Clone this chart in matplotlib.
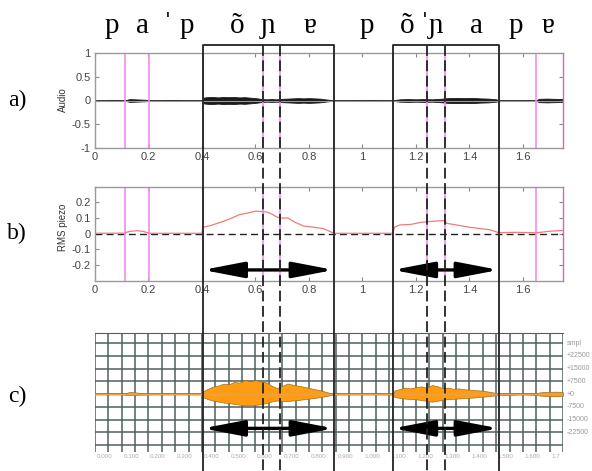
import matplotlib
matplotlib.use('Agg')
import matplotlib.pyplot as plt
import numpy as np

W, H = 592, 471

# segmentation (s)
bornes = [0.113, 0.203, 0.403, 0.628, 0.69, 0.893, 1.114, 1.241, 1.308, 1.51, 1.65, 1.75]
boites = [(0.403, 0.893), (1.114, 1.51)]
pointilles = [0.628, 0.69, 1.241, 1.308]

# transcription phonetique
phones = ['p', 'a', 'ˈ', 'p', 'õ', 'ɲ', 'ɐ', 'p', 'õ', 'ˈɲ', 'a', 'p', 'ɐ']
phones_x = [0.064, 0.179, 0.273, 0.344, 0.531, 0.647, 0.804, 1.017, 1.166, 1.262, 1.428, 1.574, 1.694]

# a) audio (enveloppe)
t_a = [0.00, 0.05, 0.06, 0.08, 0.10, 0.113, 0.13, 0.15, 0.17, 0.19, 0.203, 0.25, 0.27, 0.30, 0.33,
       0.36, 0.40, 0.405, 0.42, 0.44, 0.46, 0.48, 0.50, 0.52, 0.54, 0.56, 0.58, 0.60, 0.62, 0.64,
       0.66, 0.68, 0.70, 0.72, 0.74, 0.76, 0.78, 0.80, 0.82, 0.84, 0.86, 0.88, 0.893, 0.95, 1.00,
       1.05, 1.10, 1.114, 1.14, 1.17, 1.20, 1.23, 1.26, 1.29, 1.32, 1.35, 1.38, 1.41, 1.44, 1.47,
       1.50, 1.51, 1.55, 1.60, 1.65, 1.66, 1.69, 1.72, 1.75]
amp_a = [0.005, 0.005, 0.01, 0.01, 0.004, 0.006, 0.03, 0.025, 0.02, 0.015, 0.005, 0.004, 0.012, 0.012, 0.004,
         0.004, 0.004, 0.06, 0.07, 0.075, 0.065, 0.075, 0.07, 0.075, 0.065, 0.07, 0.06, 0.05, 0.035, 0.025,
         0.03, 0.025, 0.035, 0.04, 0.045, 0.05, 0.045, 0.05, 0.045, 0.04, 0.025, 0.012, 0.004, 0.005, 0.008,
         0.01, 0.004, 0.006, 0.025, 0.03, 0.025, 0.03, 0.025, 0.035, 0.05, 0.055, 0.05, 0.055, 0.045, 0.04,
         0.025, 0.004, 0.004, 0.004, 0.004, 0.035, 0.04, 0.035, 0.03]

# b) RMS piezo
t_b = [0, 0.113, 0.12, 0.14, 0.16, 0.18, 0.2, 0.203, 0.3, 0.40, 0.403, 0.43, 0.46, 0.50, 0.54,
       0.57, 0.60, 0.62, 0.64, 0.66, 0.68, 0.70, 0.72, 0.75, 0.78, 0.81, 0.85, 0.87, 0.893, 1.0,
       1.114, 1.12, 1.14, 1.18, 1.215, 1.24, 1.28, 1.308, 1.315, 1.35, 1.40, 1.475, 1.51, 1.58, 1.65,
       1.70, 1.75]
rms_b = [0.002, 0.003, 0.01, 0.016, 0.018, 0.014, 0.004, 0.002, 0.002, 0.002, 0.04, 0.05, 0.066, 0.09, 0.12,
         0.13, 0.142, 0.14, 0.138, 0.125, 0.105, 0.098, 0.1, 0.07, 0.048, 0.042, 0.033, 0.02, 0.002, 0.002,
         0.002, 0.04, 0.055, 0.058, 0.07, 0.075, 0.08, 0.082, 0.065, 0.055, 0.04, 0.025, 0.006, 0.008, 0.005,
         0.015, 0.02]

# c) signal (smpl)
t_c = [0.00, 0.10, 0.11, 0.13, 0.15, 0.17, 0.20, 0.21, 0.30, 0.40,
       0.405, 0.42, 0.44, 0.46, 0.48, 0.50, 0.52, 0.54, 0.56, 0.58, 0.60, 0.62, 0.64, 0.66, 0.68,
       0.70, 0.72, 0.74, 0.76, 0.78, 0.80, 0.82, 0.84, 0.86, 0.88, 0.893,
       1.00, 1.114, 1.12, 1.14, 1.16, 1.18, 1.20, 1.22, 1.24, 1.26, 1.28, 1.30, 1.32, 1.34, 1.36,
       1.38, 1.40, 1.42, 1.44, 1.46, 1.48, 1.50, 1.51,
       1.53, 1.55, 1.58, 1.62, 1.65, 1.67, 1.70, 1.73, 1.75]
haut_c = [150, 150, 500, 1300, 1100, 700, 400, 150, 150, 150,
          1800, 3000, 4400, 5000, 6200, 5800, 7200, 6800, 8400, 7600, 8300, 7500, 7000, 5000, 3600,
          4900, 6300, 5500, 5000, 4400, 3700, 3000, 2400, 1500, 700, 200,
          150, 200, 2200, 3000, 3900, 3400, 4200, 4600, 3800, 5400, 4700, 3500, 3900, 3200, 3400,
          2900, 2700, 2400, 2200, 1800, 1300, 700, 200,
          700, 500, 250, 300, 700, 1200, 1400, 1500, 1100]
bas_c = [-150, -150, -300, -500, -400, -300, -200, -150, -150, -150,
         -1800, -2800, -3700, -4300, -4900, -5200, -5700, -6100, -6500, -6600, -6300, -5900, -5200, -4300, -3700,
         -3900, -4000, -3700, -3400, -3000, -2600, -2200, -1800, -1200, -600, -200,
         -150, -200, -1600, -2200, -2600, -2800, -3000, -3400, -3900, -4400, -3900, -3200, -2900, -2700, -2500,
         -2300, -2100, -1900, -1600, -1300, -1000, -600, -200,
         -500, -400, -200, -250, -500, -900, -1100, -1200, -900]


def axes_px(fig, gauche, haut, droite, bas):
    return fig.add_axes([gauche / W, 1 - bas / H, (droite - gauche) / W, (bas - haut) / H])


def style_matlab(ax):
    for s in ax.spines.values():
        s.set_color('#9a9a9a')
        s.set_linewidth(1.0)
    ax.tick_params(direction='in', top=True, right=True, length=3, color='#888888',
                   labelsize=8, labelcolor='#444444', pad=3)


plt.rcParams['font.family'] = ['Liberation Sans', 'DejaVu Sans']
fig = plt.figure(figsize=(W / 100, H / 100), dpi=100)

serif = ['Liberation Serif', 'DejaVu Serif']
rose = '#f28cf2'

# ---- a) audio
ax_a = axes_px(fig, 95, 53, 563, 148)
style_matlab(ax_a)
ax_a.set_xlim(0, 1.75)
ax_a.set_ylim(-1, 1)
ax_a.axhline(0, color='#999999', lw=0.8)
ax_a.fill_between(t_a, [-v for v in amp_a], amp_a, color='#1a1a1a', lw=0.6)
for x in bornes[:-1]:
    ax_a.axvline(x, color=rose, lw=1.2)
ax_a.spines['right'].set_color('#c86ac8')
ax_a.set_xticks([0, 0.2, 0.4, 0.6, 0.8, 1.0, 1.2, 1.4, 1.6])
ax_a.set_xticklabels(['0', '0.2', '0.4', '0.6', '0.8', '1', '1.2', '1.4', '1.6'])
ax_a.set_yticks([-1, -0.5, 0, 0.5, 1])
ax_a.set_yticklabels(['-1', '-0.5', '0', '0.5', '1'])

# ---- b) RMS piezo
ax_b = axes_px(fig, 95, 187, 563, 281)
style_matlab(ax_b)
ax_b.set_xlim(0, 1.75)
ax_b.set_ylim(-0.3, 0.295)
ax_b.axhline(0, color='#222222', lw=1.0, ls=(0, (5, 3)))
for x in bornes[:-1]:
    ax_b.axvline(x, color=rose, lw=1.2)
ax_b.spines['right'].set_color('#c86ac8')
ax_b.plot(t_b, rms_b, color='#f07b7b', lw=0.9)
ax_b.set_xticks([0, 0.2, 0.4, 0.6, 0.8, 1.0, 1.2, 1.4, 1.6])
ax_b.set_xticklabels(['0', '0.2', '0.4', '0.6', '0.8', '1', '1.2', '1.4', '1.6'])
ax_b.set_yticks([-0.2, -0.1, 0, 0.1, 0.2])
ax_b.set_yticklabels(['-0.2', '-0.1', '0', '0.1', '0.2'])

fleche = dict(arrowstyle='<|-|>,head_length=2.5,head_width=0.48', mutation_scale=10,
              lw=2.4, color='black', shrinkA=0, shrinkB=0)
for x0, x1 in boites:
    ax_b.annotate('', xy=(x1, -0.23), xytext=(x0, -0.23), arrowprops=fleche)

# ---- c) signal
ax_c = axes_px(fig, 95, 333, 563, 452)
ax_c.set_xlim(0, 1.75)
ax_c.set_ylim(-34000, 36000)
grille = '#4e5f5f'
for s in ax_c.spines.values():
    s.set_visible(False)
ax_c.spines['top'].set_visible(True)
ax_c.spines['top'].set_color(grille)
ax_c.set_xticks([i * 0.05 for i in range(36)])
ax_c.set_yticks([-30000, -22500, -15000, -7500, 0, 7500, 15000, 22500, 30000])
ax_c.grid(True, color=grille, lw=1.1)
ax_c.set_axisbelow(True)
ax_c.tick_params(length=0, labelbottom=False, labelleft=False)
ax_c.plot([0, 1.75], [0, 0], color='#f0a040', lw=1.0)
ax_c.fill_between(t_c, bas_c, haut_c, facecolor='#ff9c12', edgecolor='#a0701a', lw=0.5)
for i in range(18):
    ax_c.text(i * 0.1 + 0.006, -36800, '%.3f' % (i * 0.1) if i < 17 else '1.7',
              fontsize=4.5, color='#aaaaaa', ha='left', va='center', clip_on=False)
etiquettes_c = ['smpl', '+22500', '+15000', '+7500', '+0', '-7500', '-15000', '-22500']
niveaux_c = [30000, 22500, 15000, 7500, 0, -7500, -15000, -22500]
for lab, y in zip(etiquettes_c, niveaux_c):
    ax_c.text(1.765, y, lab, fontsize=5, color='#999999', ha='left', va='center', clip_on=False)
for x0, x1 in boites:
    ax_c.annotate('', xy=(x1, -20100), xytext=(x0, -20100), arrowprops=fleche)

# ---- superposition : boites et pointilles
ov = axes_px(fig, 95, 0, 563, 471)
ov.set_xlim(0, 1.75)
ov.set_ylim(471, 0)
ov.axis('off')
for x0, x1 in boites:
    ov.plot([x0, x0, x1, x1], [471, 45, 45, 471], color='#222222', lw=1.3)
for x in pointilles:
    ov.plot([x, x], [45, 471], color='#222222', lw=1.3, ls=(0, (6, 2.5)))
for ph, x in zip(phones, phones_x):
    ov.text(x, 33, ph, fontsize=21, family=serif, ha='center', va='baseline')

# labels
fig.text(17 / W, 1 - 100 / H, 'a)', fontsize=17, family=serif, ha='center', va='center')
fig.text(17 / W, 1 - 233 / H, 'b)', fontsize=17, family=serif, ha='center', va='center')
fig.text(17 / W, 1 - 396 / H, 'c)', fontsize=17, family=serif, ha='center', va='center')
fig.text(63 / W, 1 - 100 / H, 'Audio', rotation=90, fontsize=7, color='#333333', ha='center', va='center')
fig.text(63 / W, 1 - 227 / H, 'RMS piezo', rotation=90, fontsize=7, color='#333333', ha='center', va='center')

fig.savefig('out.png', dpi=100)
